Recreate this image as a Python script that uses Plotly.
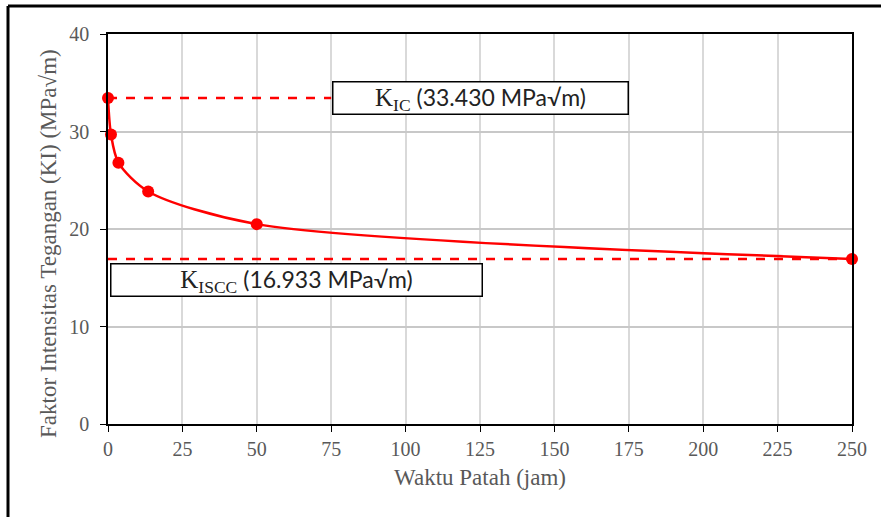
import plotly.graph_objects as go

# Data
waktu = [0, 1, 3.5, 13.5, 50, 250]
ki = [33.43, 29.7, 26.8, 23.85, 20.5, 16.933]
kic_value = 33.430
kiscc_value = 16.933
kic_line_x = [0, 75]
kiscc_line_x = [0, 250]
x_ticks = [0, 25, 50, 75, 100, 125, 150, 175, 200, 225, 250]
y_ticks = [0, 10, 20, 30, 40]

RED = "#ff0000"
GREY = "#595959"
SERIF = "Liberation Serif, Times New Roman, serif"
SANS = "Lato, Carlito, Calibri, sans-serif"

fig = go.Figure()

fig.add_trace(go.Scatter(
    x=kic_line_x, y=[kic_value, kic_value], mode="lines",
    line=dict(color=RED, width=2.5, dash="dash"), showlegend=False, hoverinfo="skip"))
fig.add_trace(go.Scatter(
    x=kiscc_line_x, y=[kiscc_value, kiscc_value], mode="lines",
    line=dict(color=RED, width=2.5, dash="dash"), showlegend=False, hoverinfo="skip"))
fig.add_trace(go.Scatter(
    x=waktu, y=ki, mode="lines+markers",
    line=dict(color=RED, width=2.5, shape="spline", smoothing=0.8),
    marker=dict(color=RED, size=12), cliponaxis=False, showlegend=False))

fig.add_annotation(
    x=125, y=33.4, xref="x", yref="y",
    text=(f"<span style='font-family:{SERIF};font-size:25px'>K<sub>IC</sub></span>"
          f" <span style='font-family:{SANS}'>({kic_value:.3f} MPa√m)</span>"),
    showarrow=False, width=294, height=31, bgcolor="white",
    bordercolor="black", borderwidth=1.5, borderpad=0,
    font=dict(size=23, color="#222222"))
fig.add_annotation(
    x=63.5, y=14.8, xref="x", yref="y",
    text=(f"<span style='font-family:{SERIF};font-size:25px'>K<sub>ISCC</sub></span>"
          f" <span style='font-family:{SANS}'>({kiscc_value:.3f} MPa√m)</span>"),
    showarrow=False, width=370, height=31, bgcolor="white",
    bordercolor="black", borderwidth=1.5, borderpad=0,
    font=dict(size=23, color="#222222"))

# y-axis title placed as annotation to match the reference position
fig.add_annotation(
    x=(48 - 108) / 744, y=(424 - 244) / 390, xref="paper", yref="paper",
    xanchor="center", yanchor="middle",
    text="Faktor Intensitas Tegangan (KI) (MPa√m)", textangle=-90, showarrow=False,
    font=dict(family=SERIF, size=23, color=GREY))

# outer frame (left and top edges)
fig.add_shape(type="line", xref="paper", yref="paper",
              x0=(8 - 108) / 744, x1=(8 - 108) / 744, y0=1 + (34 - 6) / 390, y1=-0.5,
              line=dict(color="black", width=3))
fig.add_shape(type="line", xref="paper", yref="paper",
              x0=(8 - 108) / 744, x1=1.2, y0=1 + (34 - 6) / 390, y1=1 + (34 - 6) / 390,
              line=dict(color="black", width=3))

fig.update_xaxes(
    range=[0, 250], tickvals=x_ticks, ticks="outside", ticklen=6, tickcolor="black",
    showline=True, linecolor="black", linewidth=1.5, mirror=True,
    showgrid=True, gridcolor="#d9d9d9", gridwidth=1.5, zeroline=False,
    tickfont=dict(family=SERIF, size=20, color=GREY),
    title=dict(text="Waktu Patah (jam)", font=dict(family=SERIF, size=23, color=GREY), standoff=10))
fig.update_yaxes(
    range=[0, 40], tickvals=y_ticks, ticks="outside", ticklen=6, tickcolor="black",
    showline=True, linecolor="black", linewidth=1.5, mirror=True,
    showgrid=True, gridcolor="#c8c8c8", gridwidth=1.5, zeroline=False,
    ticklabelstandoff=7,
    tickfont=dict(family=SERIF, size=20, color=GREY))

fig.update_layout(
    width=881, height=517, paper_bgcolor="white", plot_bgcolor="white",
    margin=dict(l=108, r=29, t=34, b=93, autoexpand=False),
    showlegend=False)

fig.write_html("out.html")
